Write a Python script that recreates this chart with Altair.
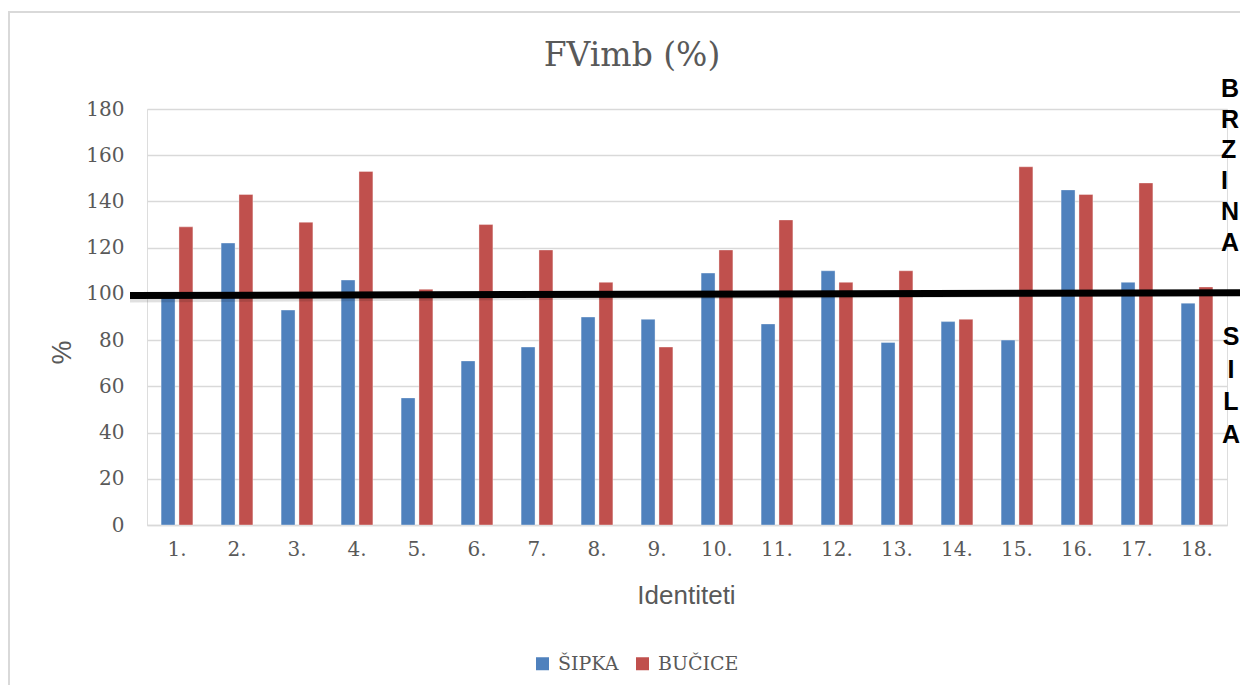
import altair as alt
import pandas as pd

categories = ["1.", "2.", "3.", "4.", "5.", "6.", "7.", "8.", "9.", "10.",
              "11.", "12.", "13.", "14.", "15.", "16.", "17.", "18."]
sipka = [99, 122, 93, 106, 55, 71, 77, 90, 89, 109, 87, 110, 79, 88, 80, 145, 105, 96]
bucice = [129, 143, 131, 153, 102, 130, 119, 105, 77, 119, 132, 105, 110, 89, 155, 143, 148, 103]
series_names = ["ŠIPKA", "BUČICE"]
series_colors = ["#4F81BD", "#C0504D"]
y_ticks = [0, 20, 40, 60, 80, 100, 120, 140, 160, 180]
line_start, line_end = 99.3, 100.5
chart_title = "FVimb (%)"
upper_label = "BRZINA"
lower_label = "SILA"

rows = []
for c, a, b in zip(categories, sipka, bucice):
    rows.append({"cat": c, "serija": series_names[0], "val": a})
    rows.append({"cat": c, "serija": series_names[1], "val": b})
df = pd.DataFrame(rows)

W, H = 1080, 416
GRAY = "#595959"
GRID = "#d9d9d9"

x_enc = alt.X("cat:N", sort=categories,
              scale=alt.Scale(paddingInner=0.47, paddingOuter=0.235),
              axis=alt.Axis(title="Identiteti", labelAngle=0, ticks=False,
                            domain=True, domainColor=GRID, domainWidth=1.5,
                            labelFont="DejaVu Serif", labelFontSize=20,
                            labelColor=GRAY, labelPadding=14,
                            titleFont="Liberation Sans", titleFontSize=26,
                            titleFontWeight="normal", titleColor=GRAY,
                            titleX=W / 2 - 1, titleY=78, titleBaseline="alphabetic",
                            titleAlign="center"))

bars = alt.Chart(df).mark_bar(stroke="white", strokeWidth=0.6, strokeOpacity=0.6).encode(
    x=x_enc,
    xOffset=alt.XOffset("serija:N", sort=series_names,
                        scale=alt.Scale(paddingInner=0.22, paddingOuter=0)),
    y=alt.Y("val:Q", scale=alt.Scale(domain=[0, 180], nice=False),
            axis=alt.Axis(title="%", values=y_ticks, ticks=False, domain=False,
                          grid=True, gridColor=GRID, gridWidth=1.5,
                          labelFont="DejaVu Serif", labelFontSize=20,
                          labelColor=GRAY, labelPadding=23,
                          titleFont="Liberation Sans", titleFontSize=27,
                          titleFontWeight="normal", titleColor=GRAY,
                          titleX=-85, titleY=243, titleAngle=270,
                          titleBaseline="middle", titleAlign="center")),
    color=alt.Color("serija:N", sort=series_names,
                    scale=alt.Scale(domain=series_names, range=series_colors),
                    legend=alt.Legend(title=None, orient="none", direction="horizontal",
                                      legendX=386, legendY=545, padding=0,
                                      symbolType="square", symbolSize=169,
                                      symbolStrokeWidth=0, labelFont="DejaVu Serif",
                                      labelFontSize=19, labelColor=GRAY,
                                      labelOffset=6, columnPadding=14)),
)

one = alt.Data(values=[{"a": 1}])

shadow = alt.Chart(one).mark_rule(color="#000000", opacity=0.12, strokeWidth=6, yOffset=4).encode(
    x=alt.value(-17), x2=alt.value(1120),
    y=alt.YDatum(line_start), y2=alt.Y2Datum(line_end))

ref_line = alt.Chart(one).mark_rule(color="#000000", strokeWidth=7).encode(
    x=alt.value(-17), x2=alt.value(1120),
    y=alt.YDatum(line_start), y2=alt.Y2Datum(line_end))

title_text = alt.Chart(one).mark_text(font="DejaVu Serif", fontSize=33, color=GRAY,
                                      align="center", baseline="alphabetic").encode(
    x=alt.value(485), y=alt.value(-43), text=alt.value(chart_title))

upper = alt.Chart(one).mark_text(font="Liberation Sans", fontSize=25, fontWeight="bold",
                                 color="#000000", align="left", baseline="alphabetic",
                                 lineBreak="\n", lineHeight=30.7).encode(
    x=alt.value(1074), y=alt.value(-12), text=alt.value("\n".join(upper_label)))

lower = alt.Chart(one).mark_text(font="Liberation Sans", fontSize=25, fontWeight="bold",
                                 color="#000000", align="center", baseline="alphabetic",
                                 lineBreak="\n", lineHeight=32.5).encode(
    x=alt.value(1084), y=alt.value(236), text=alt.value("\n".join(lower_label)))

frame = alt.Chart(one).mark_rect(fill=None, stroke=GRID, strokeWidth=2).encode(
    x=alt.value(-138), x2=alt.value(1400), y=alt.value(-97), y2=alt.value(900))

chart = alt.layer(frame, bars, shadow, ref_line, title_text, upper, lower).properties(
    width=W, height=H,
    padding={"left": 139, "top": 101, "right": 13, "bottom": 160},
    autosize=alt.AutoSizeParams(type="none"),
).configure_view(stroke=None).configure(background="white")

chart.save("out.html", embed_options={"renderer": "svg", "actions": False})
